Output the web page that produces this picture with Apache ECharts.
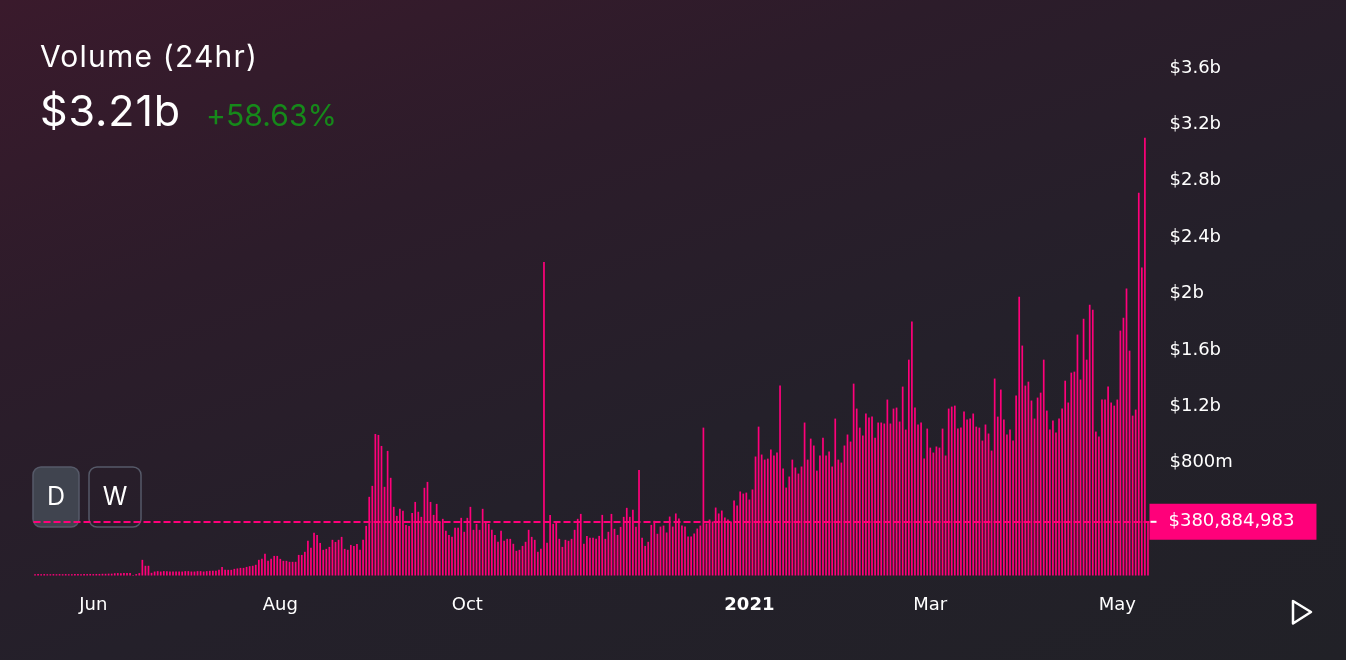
<!DOCTYPE html>
<html>
<head>
<meta charset="utf-8">
<script src="https://cdn.jsdelivr.net/npm/echarts@6/dist/echarts.min.js"></script>
<style>
  html, body { margin: 0; padding: 0; width: 1346px; height: 660px; overflow: hidden; }
  body { background: linear-gradient(160deg, #3a1a2c 0%, #2c1c2a 30%, #24202a 60%, #212127 100%); position: relative; font-family: Inter, sans-serif; }
  #chart { width: 1346px; height: 660px; position: absolute; left: 0; top: 0; }
  .hd { position: absolute; color: #fff; line-height: 1; white-space: nowrap; z-index: 2; }
  #t1 { left: 40px; top: 41px; font-size: 30px; letter-spacing: 1.2px; }
  #t2 { left: 40px; top: 89px; font-size: 43px; letter-spacing: 0.9px; }
  #t3 { left: 206px; top: 100px; font-size: 30px; color: #16891a; letter-spacing: 0.1px; }
</style>
</head>
<body>
<div id="chart"></div>
<div class="hd" id="t1"></div>
<div class="hd" id="t2"></div>
<div class="hd" id="t3"></div>
<script>
// ---- data (values in millions USD, daily volume) ----
const startDate = '2020-05-13';
const volMayJun = [9,10,9,10,9,9,10,9,10,9,10,9,9,10,10,9,10,10,11,10,11,11,12,12,13,13,16,17,16,17,18,17,
  4,10,17,111,69,69,19,
  28,31,28,31,31,28,28,28,28,28,31,31,28,28,31,31,28,31,33,33,33];
const volJulAug = [40,61,40,40,40,47,50,54,54,61,66,69,76,
  111,118,154,104,118,139,139,118,104,104,97,97,97,
  146,146,168,246,196,303,288,231,182,189,203,253,238,253,274,189,182,217,210,224];
const volSepNov = [182,253,352,558,636,1004,997,919,629,884,
  693,487,423,473,459,359,352,444,522,452,
  416,622,664,522,430,508,381,402,317,288,
  274,338,338,409,310,409,487,324,366,324,
  473,381,366,324,288,239,317,246,260,260,
  225,175,182,210,239,324,274,253,168,189,
  2223,232,430,366,374,260,203,253,246,260,
  324,402,437,225,281,267,267,260,281,430,
  260,310,437,331,288,345,416,480,416,466,
  345,749,267,210,239,359,388,296];
const volDecFeb = [347,354,305,418,347,440,404,354,347,277,277,298,333,354,1049,369,397,383,482,440,
  461,411,397,383,532,496,596,581,588,539,610,844,1056,858,822,829,893,851,872,1347,
  759,624,702,822,766,723,773,1085,822,971,922,744,851,978,851,879,773,1113,822,801,
  922,1000,950,1361,1184,1049,993,1149,1120,1127,978,1085,1085,1078,1248,1078,1184,1191,1092,1340,
  1035,1531,1801,1191,1071];
const volFebMay = [1085,830,1042,907,872,915,907,1042,851,1184,1198,1205,1042,1049,1163,1106,1113,1149,1056,1049,
  957,1071,1007,886,1397,1127,1319,1106,1000,1035,957,1276,1978,1631,1347,1375,1241,1113,1262,1297,
  1531,1170,1035,1099,1014,1113,1184,1382,1227,1439,1446,1709,1390,1822,1531,1921,1886,1021,986,1248,
  1248,1340,1227,1205,1248,1737,1829,2035,1595,1134,1177,2715,2184,3105,380.884983];
const yTicks = [0, 400e6, 800e6, 1200e6, 1600e6, 2000e6, 2400e6, 2800e6, 3200e6, 3600e6];
const monthNames = ['Jan','Feb','Mar','Apr','May','Jun','Jul','Aug','Sep','Oct','Nov','Dec'];
const labelMonths = [0, 2, 4, 5, 7, 9];
const headline = { title: 'Volume (24hr)', value: '$3.21b', change: '+58.63%' };

// ---- build ----
document.getElementById('t1').textContent = headline.title;
document.getElementById('t2').textContent = headline.value;
document.getElementById('t3').textContent = headline.change;

const volumes = [].concat(volMayJun, volJulAug, volSepNov, volDecFeb, volFebMay).map(v => Math.round(v * 1e6));
const dates = [];
(function () {
  const d0 = new Date(startDate + 'T00:00:00Z');
  for (let i = 0; i < volumes.length; i++) {
    const d = new Date(d0.getTime() + i * 86400000);
    dates.push(d.toISOString().slice(0, 10));
  }
})();
const lastVal = volumes[volumes.length - 1];
function commas(n) { return '$' + String(n).replace(/\B(?=(\d{3})+(?!\d))/g, ','); }
function fmtY(v) {
  if (v === 0 || v === 400e6) return '';
  if (v >= 1e9) return '$' + (+(v / 1e9).toFixed(1)) + 'b';
  return '$' + Math.round(v / 1e6) + 'm';
}

const PINK = '#ff007a';
const chart = echarts.init(document.getElementById('chart'));
chart.setOption({
  backgroundColor: 'transparent',
  animation: false,
  grid: { left: 33.5, right: 196.5, top: 68, bottom: 84.5 },
  xAxis: {
    type: 'category',
    data: dates,
    boundaryGap: true,
    axisLine: { show: false },
    axisTick: { show: false },
    splitLine: { show: false },
    axisLabel: {
      color: '#ffffff',
      fontSize: 18,
      fontFamily: 'DejaVu Sans',
      margin: 21,
      interval: function (idx, val) {
        const m = +val.slice(5, 7) - 1, d = +val.slice(8, 10);
        return d === 1 && labelMonths.indexOf(m) >= 0;
      },
      formatter: function (val) {
        const m = +val.slice(5, 7) - 1;
        if (m === 0) return '{b|' + val.slice(0, 4) + '}';
        return monthNames[m];
      },
      rich: { b: { fontWeight: 'bold', fontSize: 18, color: '#ffffff', fontFamily: 'DejaVu Sans' } }
    }
  },
  yAxis: {
    type: 'value',
    position: 'right',
    min: yTicks[0],
    max: yTicks[yTicks.length - 1],
    interval: yTicks[1] - yTicks[0],
    axisLine: { show: false },
    axisTick: { show: false },
    splitLine: { show: false },
    axisLabel: {
      color: '#ffffff',
      fontSize: 18,
      fontFamily: 'DejaVu Sans',
      margin: 20,
      align: 'left',
      formatter: fmtY
    }
  },
  series: [{
    type: 'bar',
    data: volumes,
    barWidth: 1.7,
    itemStyle: { color: PINK },
    markLine: {
      silent: true,
      symbol: ['none', 'none'],
      lineStyle: { color: PINK, type: [7, 3], width: 2 },
      data: [{ yAxis: lastVal }],
      label: {
        show: true,
        position: 'end',
        distance: 0,
        backgroundColor: PINK,
        padding: [8, 22, 8, 1],
        color: '#ffffff',
        fontSize: 18,
        lineHeight: 20,
        fontFamily: 'DejaVu Sans',
        formatter: function () { return '{t| }{g| }' + commas(lastVal); },
        rich: {
          t: { width: 6, height: 2, backgroundColor: '#ffffff', verticalAlign: 'middle' },
          g: { width: 12 }
        }
      }
    }
  }],
  graphic: [
    { type: 'rect', shape: { x: 33, y: 467, width: 46, height: 60, r: 8 }, style: { fill: '#40444f', stroke: '#565a69', lineWidth: 1.5 } },
    { type: 'text', x: 56, y: 497, style: { text: 'D', fill: '#ffffff', font: '400 25px Inter', textAlign: 'center', textVerticalAlign: 'middle' } },
    { type: 'rect', shape: { x: 89, y: 467, width: 52, height: 60, r: 8 }, style: { fill: 'transparent', stroke: '#565a69', lineWidth: 1.5 } },
    { type: 'text', x: 115, y: 497, style: { text: 'W', fill: '#ffffff', font: '400 25px Inter', textAlign: 'center', textVerticalAlign: 'middle' } },
    { type: 'polygon', shape: { points: [[1293, 601], [1293, 623.5], [1311, 612]] }, style: { fill: 'none', stroke: '#ffffff', lineWidth: 2.5, lineJoin: 'round' } }
  ]
});
</script>
</body>
</html>
